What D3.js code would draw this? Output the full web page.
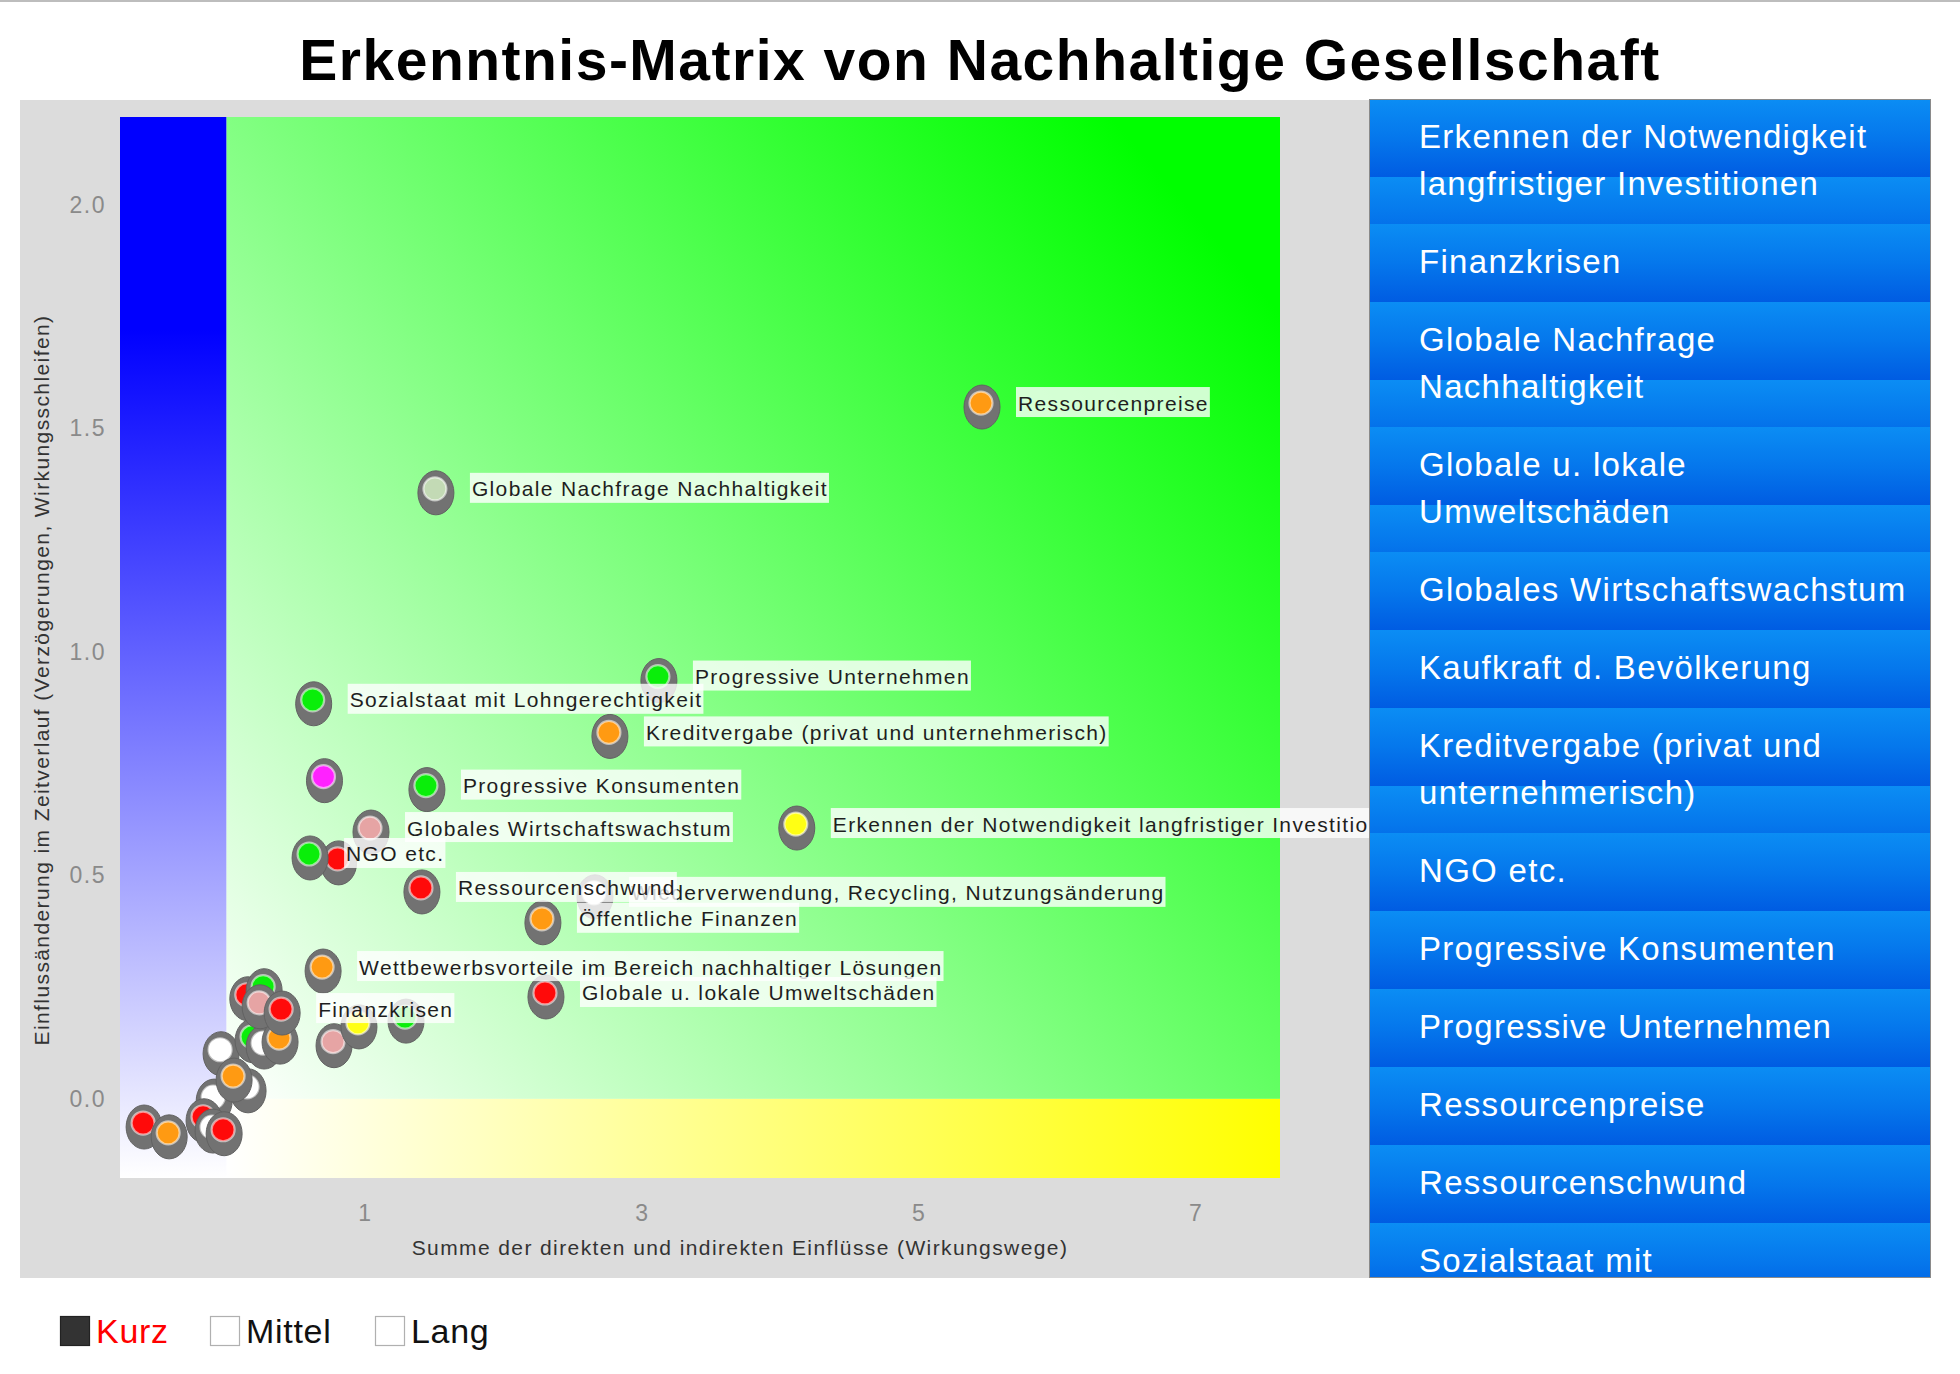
<!DOCTYPE html>
<html><head><meta charset="utf-8">
<script src="https://cdn.jsdelivr.net/npm/d3@7"></script>
<style>html,body{margin:0;padding:0;background:#fff;} svg{display:block;}</style>
</head><body>
<svg id="chart" width="1960" height="1374"></svg>
<script>
// ---------- data ----------
const chartTitle = "Erkenntnis-Matrix von Nachhaltige Gesellschaft";
const xAxisTitle = "Summe der direkten und indirekten Einflüsse (Wirkungswege)";
const yAxisTitle = "Einflussänderung im Zeitverlauf (Verzögerungen, Wirkungsschleifen)";
const xTickValues = [1, 3, 5, 7];
const yTickValues = [0.0, 0.5, 1.0, 1.5, 2.0];
const xDomain = [-0.77, 7.61];
const yDomain = [-0.177, 2.197];

const pointLabels = [
  "", "", "", "", "", "", "", "", "", "", "", "",
  "", "", "", "Finanzkrisen",
  "", "", "",
  "Wettbewerbsvorteile im Bereich nachhaltiger Lösungen",
  "Globale u. lokale Umweltschäden",
  "Wiederverwendung, Recycling, Nutzungsänderung",
  "Ressourcenschwund",
  "Öffentliche Finanzen",
  "", "NGO etc.",
  "Globales Wirtschaftswachstum",
  "Erkennen der Notwendigkeit langfristiger Investitionen",
  "", "Progressive Konsumenten",
  "Kreditvergabe (privat und unternehmerisch)",
  "Sozialstaat mit Lohngerechtigkeit",
  "Progressive Unternehmen",
  "Globale Nachfrage Nachhaltigkeit",
  "Ressourcenpreise"
];
const pointX = [
  -0.603, -0.422, -0.097, -0.170, -0.105, -0.025, -0.047, 0.148, 0.047, 0.184, 0.264, 0.379,
  0.146, 0.264, 0.235, 0.394,
  0.769, 0.949, 1.289,
  0.690, 2.300, 2.654, 1.404, 2.278,
  0.802, 0.596, 1.036, 4.112,
  0.700, 1.440, 2.762, 0.622, 3.116, 1.505, 5.450
];
const pointY = [
  -0.054, -0.076, 0.004, -0.040, -0.063, -0.069, 0.110, 0.027, 0.051, 0.139, 0.125, 0.136,
  0.233, 0.251, 0.215, 0.201,
  0.128, 0.170, 0.183,
  0.295, 0.237, 0.461, 0.472, 0.403,
  0.537, 0.548, 0.606, 0.615,
  0.721, 0.701, 0.820, 0.893, 0.945, 1.365, 1.557
];
const pointColor = [
  "red", "orange", "white", "red", "white", "red", "white", "white", "orange", "green", "white", "orange",
  "red", "green", "pink", "red",
  "pink", "yellow", "green",
  "orange", "red", "white", "red", "orange",
  "red", "green", "pink", "yellow",
  "magenta", "green", "orange", "green", "green", "sage", "orange"
];
const colorNames = ["red", "orange", "green", "pink", "yellow", "magenta", "white", "sage"];
const colorValues = ["#ff0a0a", "#ff9a12", "#0aee0a", "#e6a4a4", "#ffff14", "#ff22ff", "#ffffff", "#c3dab5"];

const legendItems = [
  "Erkennen der Notwendigkeit\nlangfristiger Investitionen",
  "Finanzkrisen",
  "Globale Nachfrage\nNachhaltigkeit",
  "Globale u. lokale\nUmweltschäden",
  "Globales Wirtschaftswachstum",
  "Kaufkraft d. Bevölkerung",
  "Kreditvergabe (privat und\nunternehmerisch)",
  "NGO etc.",
  "Progressive Konsumenten",
  "Progressive Unternehmen",
  "Ressourcenpreise",
  "Ressourcenschwund",
  "Sozialstaat mit\nLohngerechtigkeit",
  "Wettbewerbsvorteile im Bereich\nnachhaltiger Lösungen",
  "Wiederverwendung, Recycling,\nNutzungsänderung",
  "Öffentliche Finanzen"
];
const timeLegend = ["Kurz", "Mittel", "Lang"];
const timeLegendActive = [true, false, false];

// ---------- layout ----------
const FONT = "'Liberation Sans', Arial, Helvetica, sans-serif";
const svg = d3.select("#chart");
const plot = {x0: 120, x1: 1280, y0: 117, y1: 1178};
const x = d3.scaleLinear().domain(xDomain).range([plot.x0, plot.x1]);
const y = d3.scaleLinear().domain(yDomain).range([plot.y1, plot.y0]);
const color = d3.scaleOrdinal().domain(colorNames).range(colorValues);

const defs = svg.append("defs");
function linGrad(id, x1, y1, x2, y2, stops, units) {
  const g = defs.append("linearGradient").attr("id", id)
    .attr("x1", x1).attr("y1", y1).attr("x2", x2).attr("y2", y2);
  if (units) g.attr("gradientUnits", units);
  stops.forEach(s => g.append("stop").attr("offset", s[0]).attr("stop-color", s[1]));
}
linGrad("blueG", 0, 0, 0, 1, [[0, "#0000ff"], [0.2, "#0000ff"], [1, "#ffffff"]]);
linGrad("greenG", 0, 1, 1, 0.2, [[0, "#ffffff"], [0.45, "#8cff8c"], [1, "#00ff00"]]);
linGrad("yellowG", 0, 0, 1, 0, [[0, "#ffffff"], [1, "#ffff00"]]);
linGrad("bandG", 0, 0, 0, 78, [[0, "#0b8df4"], [0.5, "#0577ec"], [1, "#005ce2"]], "userSpaceOnUse");

// top rule
svg.append("rect").attr("x", 0).attr("y", 0).attr("width", 1960).attr("height", 2).attr("fill", "#bdbdbd");

// title
svg.append("text").attr("x", 980).attr("y", 80).attr("text-anchor", "middle")
  .attr("font-family", FONT).attr("font-weight", "bold").attr("font-size", 57)
  .attr("letter-spacing", 1.5).attr("fill", "#000").text(chartTitle);

// grey chart panel
svg.append("rect").attr("x", 20).attr("y", 100).attr("width", 1349).attr("height", 1178).attr("fill", "#dcdcdc");

// plot backgrounds
svg.append("rect").attr("x", plot.x0).attr("y", plot.y0).attr("width", plot.x1 - plot.x0).attr("height", plot.y1 - plot.y0).attr("fill", "#ffffff");
svg.append("rect").attr("x", x(xDomain[0])).attr("y", y(yDomain[1]))
  .attr("width", x(0) - x(xDomain[0])).attr("height", y(yDomain[0]) - y(yDomain[1])).attr("fill", "url(#blueG)");
svg.append("rect").attr("x", x(0)).attr("y", y(yDomain[1]))
  .attr("width", x(xDomain[1]) - x(0)).attr("height", y(0) - y(yDomain[1])).attr("fill", "url(#greenG)");
svg.append("rect").attr("x", x(0)).attr("y", y(0))
  .attr("width", x(xDomain[1]) - x(0)).attr("height", y(yDomain[0]) - y(0)).attr("fill", "url(#yellowG)");

// axes
const yAxis = svg.append("g").attr("transform", `translate(${plot.x0},0)`)
  .call(d3.axisLeft(y).tickValues(yTickValues).tickFormat(d3.format(".1f")).tickSize(0).tickPadding(14));
const xAxis = svg.append("g").attr("transform", `translate(0,${plot.y1})`)
  .call(d3.axisBottom(x).tickValues(xTickValues).tickFormat(d3.format("d")).tickSize(0).tickPadding(27));
[yAxis, xAxis].forEach(a => {
  a.select(".domain").remove();
  a.selectAll("text").attr("font-family", FONT).attr("font-size", 23)
    .attr("letter-spacing", 1.5).attr("fill", "#8a8a8a");
});

svg.append("text").attr("x", 740).attr("y", 1255).attr("text-anchor", "middle")
  .attr("font-family", FONT).attr("font-size", 21).attr("letter-spacing", 1.4).attr("fill", "#333")
  .text(xAxisTitle);
svg.append("text").attr("transform", "translate(49,680) rotate(-90)").attr("text-anchor", "middle")
  .attr("font-family", FONT).attr("font-size", 21).attr("letter-spacing", 1.4).attr("fill", "#333")
  .text(yAxisTitle);

// markers
const pts = pointX.map((v, i) => ({x: v, y: pointY[i], c: pointColor[i], label: pointLabels[i]}));
const chartClip = defs.append("clipPath").attr("id", "chartClip");
chartClip.append("rect").attr("x", 20).attr("y", 100).attr("width", 1349).attr("height", 1178);
const markG = svg.append("g").attr("clip-path", "url(#chartClip)");
const mk = markG.selectAll("g.pt").data(pts).join("g").attr("class", "pt")
  .attr("transform", d => `translate(${x(d.x)},${y(d.y)})`);
mk.append("ellipse").attr("cx", 1).attr("cy", 4).attr("rx", 18).attr("ry", 22)
  .attr("fill", "#727272").attr("stroke", "#626262").attr("stroke-width", 1);
mk.append("circle").attr("r", 11.5).attr("fill", d => color(d.c))
  .attr("stroke", "rgba(255,255,255,0.55)").attr("stroke-width", 2.2);

// labels
const labG = markG.append("g");
pts.filter(d => d.label).forEach(d => {
  const g = labG.append("g");
  const tx = x(d.x) + 37, ty = y(d.y);
  const rect = g.append("rect").attr("fill", "#ffffff").attr("fill-opacity", 0.8);
  const t = g.append("text").attr("x", tx).attr("y", ty + 7.5)
    .attr("font-family", FONT).attr("font-size", 21).attr("letter-spacing", 1.35).attr("fill", "#1e1e1e")
    .text(d.label);
  const w = t.node().getComputedTextLength();
  rect.attr("x", tx - 2).attr("y", ty - 16).attr("width", w + 3).attr("height", 30);
});

// legend panel
const LP = {x: 1369, y: 99, w: 562, h: 1179};
const lpClip = defs.append("clipPath").attr("id", "lpClip");
lpClip.append("rect").attr("x", LP.x).attr("y", LP.y).attr("width", LP.w).attr("height", LP.h);
const lp = svg.append("g").attr("clip-path", "url(#lpClip)");
lp.append("rect").attr("x", LP.x).attr("y", LP.y).attr("width", LP.w).attr("height", LP.h).attr("fill", "#005ce2");
let cy = LP.y;
legendItems.forEach(item => {
  const lines = item.split("\n");
  lines.forEach((ln, j) => {
    const top = cy + (j === 0 ? 0 : 78 + (j - 1) * 47);
    const h = j === 0 ? 78 : 47;
    const g = lp.append("g").attr("transform", `translate(${LP.x},${top})`);
    g.append("rect").attr("x", 0).attr("y", 0).attr("width", LP.w).attr("height", h).attr("fill", "url(#bandG)");
  });
  lines.forEach((ln, j) => {
    lp.append("text").attr("x", 1419).attr("y", cy + 38 + j * 47 + 11)
      .attr("font-family", FONT).attr("font-size", 33).attr("letter-spacing", 1.3).attr("fill", "#ffffff")
      .text(ln);
  });
  cy += 78 + (lines.length - 1) * 47;
});
svg.append("rect").attr("x", LP.x + 0.5).attr("y", LP.y + 0.5).attr("width", LP.w - 1).attr("height", LP.h - 1)
  .attr("fill", "none").attr("stroke", "#8a8a8a").attr("stroke-width", 1);

// time legend
const tlX = [60, 210, 375];
const tl = svg.append("g");
timeLegend.forEach((name, i) => {
  tl.append("rect").attr("x", tlX[i] + 0.5).attr("y", 1316.5).attr("width", 29).attr("height", 29)
    .attr("fill", timeLegendActive[i] ? "#333333" : "#ffffff")
    .attr("stroke", timeLegendActive[i] ? "#222" : "#b0b0b0").attr("stroke-width", 1.2);
  tl.append("text").attr("x", tlX[i] + 36).attr("y", 1343)
    .attr("font-family", FONT).attr("font-size", 34).attr("letter-spacing", 0.7)
    .attr("fill", timeLegendActive[i] ? "#ff0000" : "#111").text(name);
});
</script>
</body></html>
